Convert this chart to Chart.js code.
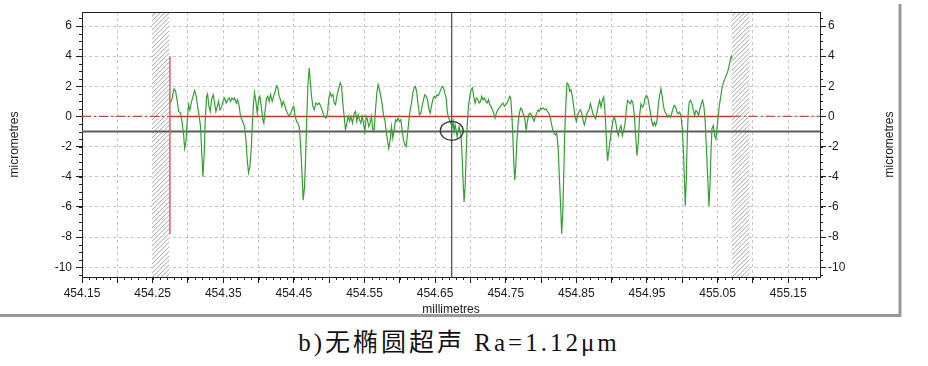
<!DOCTYPE html>
<html lang="zh">
<head>
<meta charset="UTF-8" />
<title>无椭圆超声 Ra=1.12μm</title>
<script src="https://cdn.jsdelivr.net/npm/chart.js"></script>
<style>
  body { margin: 0; background: #fff; }
  #wrap { position: relative; width: 928px; height: 366px; }
  #profileChart { position: absolute; left: 0; top: 0; }
  #caption {
    position: absolute; left: 0; top: 322px; width: 918px; line-height: 32px;
    text-align: center; color: #111; letter-spacing: 3px;
    font: 25px "Liberation Serif", "Noto Sans CJK SC", serif;
  }
</style>
</head>
<body>
<div id="wrap">
  <canvas id="profileChart" width="928" height="320"></canvas>
  <div id="caption">b)无椭圆超声 Ra=1.12μm</div>
</div>
<script>
// axis ranges and ticks
const xMin = 454.15, xMax = 455.195;
const yMin = -10.65, yMax = 6.93;
const xTickValues = [454.15, 454.20, 454.25, 454.30, 454.35, 454.40, 454.45, 454.50, 454.55, 454.60, 454.65,
  454.70, 454.75, 454.80, 454.85, 454.90, 454.95, 455.00, 455.05, 455.10, 455.15];
const xTickLabels = ["454.15", "", "454.25", "", "454.35", "", "454.45", "", "454.55", "", "454.65",
  "", "454.75", "", "454.85", "", "454.95", "", "455.05", "", "455.15"];
const yTickValues = [-10, -8, -6, -4, -2, 0, 2, 4, 6];

// surface profile (mm, um)
const profileX = [
  454.2750, 454.2774, 454.2802, 454.2825, 454.2849, 454.2868, 454.2896, 454.2915, 454.2939, 454.2953,
  454.2972, 454.2991, 454.3009, 454.3028, 454.3047, 454.3071, 454.3094, 454.3118, 454.3137, 454.3156,
  454.3179, 454.3198, 454.3212, 454.3231, 454.3245, 454.3264, 454.3278, 454.3297, 454.3316, 454.3335,
  454.3358, 454.3377, 454.3396, 454.3415, 454.3434, 454.3453, 454.3472, 454.3495, 454.3519, 454.3542,
  454.3561, 454.3585, 454.3604, 454.3623, 454.3646, 454.3660, 454.3684, 454.3703, 454.3726, 454.3745,
  454.3774, 454.3802, 454.3821, 454.3840, 454.3858, 454.3877, 454.3896, 454.3910, 454.3929, 454.3943,
  454.3962, 454.3981, 454.4000, 454.4019, 454.4038, 454.4061, 454.4075, 454.4094, 454.4113, 454.4132,
  454.4151, 454.4170, 454.4193, 454.4212, 454.4236, 454.4255, 454.4274, 454.4292, 454.4311, 454.4330,
  454.4349, 454.4368, 454.4387, 454.4410, 454.4434, 454.4458, 454.4481, 454.4500, 454.4519, 454.4538,
  454.4557, 454.4575, 454.4594, 454.4613, 454.4632, 454.4651, 454.4665, 454.4679, 454.4698, 454.4717,
  454.4731, 454.4750, 454.4769, 454.4788, 454.4811, 454.4835, 454.4858, 454.4882, 454.4906, 454.4929,
  454.4953, 454.4976, 454.4995, 454.5014, 454.5033, 454.5052, 454.5071, 454.5090, 454.5108, 454.5137,
  454.5156, 454.5175, 454.5193, 454.5212, 454.5231, 454.5250, 454.5269, 454.5288, 454.5307, 454.5330,
  454.5354, 454.5373, 454.5392, 454.5410, 454.5429, 454.5448, 454.5467, 454.5486, 454.5505, 454.5524,
  454.5542, 454.5561, 454.5580, 454.5599, 454.5618, 454.5637, 454.5656, 454.5675, 454.5693, 454.5712,
  454.5731, 454.5750, 454.5769, 454.5788, 454.5807, 454.5825, 454.5844, 454.5863, 454.5882, 454.5901,
  454.5920, 454.5939, 454.5958, 454.5976, 454.5995, 454.6014, 454.6033, 454.6052, 454.6071, 454.6090,
  454.6108, 454.6127, 454.6146, 454.6165, 454.6184, 454.6203, 454.6222, 454.6241, 454.6259, 454.6278,
  454.6297, 454.6316, 454.6335, 454.6354, 454.6373, 454.6392, 454.6410, 454.6429, 454.6448, 454.6467,
  454.6486, 454.6505, 454.6524, 454.6542, 454.6561, 454.6580, 454.6599, 454.6618, 454.6637, 454.6656,
  454.6675, 454.6693, 454.6741, 454.6755, 454.6769, 454.6783, 454.6797, 454.6811, 454.6825, 454.6840,
  454.6854, 454.6868, 454.6882, 454.6896, 454.6910, 454.6925, 454.6939, 454.6953, 454.6972, 454.6991,
  454.7009, 454.7028, 454.7047, 454.7066, 454.7085, 454.7104, 454.7123, 454.7142, 454.7160, 454.7179,
  454.7198, 454.7217, 454.7236, 454.7255, 454.7274, 454.7292, 454.7311, 454.7330, 454.7349, 454.7368,
  454.7387, 454.7406, 454.7425, 454.7443, 454.7462, 454.7481, 454.7500, 454.7519, 454.7538, 454.7557,
  454.7571, 454.7585, 454.7599, 454.7613, 454.7627, 454.7642, 454.7656, 454.7675, 454.7693, 454.7712,
  454.7731, 454.7750, 454.7769, 454.7788, 454.7807, 454.7825, 454.7844, 454.7863, 454.7882, 454.7901,
  454.7920, 454.7939, 454.7958, 454.7976, 454.7995, 454.8014, 454.8033, 454.8052, 454.8071, 454.8090,
  454.8108, 454.8127, 454.8146, 454.8165, 454.8184, 454.8203, 454.8222, 454.8241, 454.8259, 454.8278,
  454.8292, 454.8307, 454.8321, 454.8335, 454.8354, 454.8368, 454.8387, 454.8406, 454.8425, 454.8443,
  454.8462, 454.8481, 454.8500, 454.8519, 454.8538, 454.8557, 454.8575, 454.8594, 454.8613, 454.8632,
  454.8651, 454.8679, 454.8698, 454.8717, 454.8736, 454.8755, 454.8774, 454.8792, 454.8811, 454.8830,
  454.8849, 454.8868, 454.8887, 454.8906, 454.8920, 454.8934, 454.8943, 454.8962, 454.8981, 454.9000,
  454.9019, 454.9038, 454.9057, 454.9075, 454.9094, 454.9113, 454.9132, 454.9151, 454.9170, 454.9189,
  454.9208, 454.9226, 454.9245, 454.9264, 454.9283, 454.9302, 454.9321, 454.9340, 454.9358, 454.9377,
  454.9396, 454.9415, 454.9434, 454.9453, 454.9472, 454.9491, 454.9509, 454.9528, 454.9547, 454.9566,
  454.9585, 454.9604, 454.9623, 454.9642, 454.9660, 454.9679, 454.9698, 454.9717, 454.9736, 454.9755,
  454.9774, 454.9792, 454.9811, 454.9830, 454.9849, 454.9868, 454.9887, 454.9906, 454.9925, 454.9943,
  454.9962, 454.9981, 455.0000, 455.0019, 455.0033, 455.0042, 455.0057, 455.0071, 455.0085, 455.0099,
  455.0118, 455.0137, 455.0156, 455.0175, 455.0193, 455.0212, 455.0231, 455.0250, 455.0269, 455.0288,
  455.0307, 455.0325, 455.0344, 455.0363, 455.0377, 455.0392, 455.0406, 455.0420, 455.0439, 455.0458,
  455.0476, 455.0491, 455.0509, 455.0528, 455.0547, 455.0566, 455.0585, 455.0604, 455.0623, 455.0642,
  455.0660, 455.0679, 455.0693, 455.0705
];
const profileY = [
  0.89, 1.16, 1.82, 1.67, 1.00, 0.33, 0.22, -0.33, -1.22, -2.11,
  -1.67, -0.22, 0.78, 0.44, 0.89, 1.33, 1.71, 1.33, 0.67, 0.11,
  -0.67, -2.67, -4.00, -2.44, -0.22, 1.33, 1.49, 0.67, 0.33, 1.11,
  1.44, 0.89, 0.33, 0.67, 1.00, 0.44, 0.56, 1.00, 1.22, 0.89,
  1.11, 1.22, 1.00, 1.22, 1.11, 1.22, 0.89, 1.11, 0.67, 0.00,
  -0.33, -0.67, -1.56, -2.89, -3.73, -3.33, -2.22, -0.67, 0.89, 1.56,
  1.00, 0.22, 1.11, 1.33, 0.67, -0.22, -0.44, 0.44, 1.22, 1.33,
  1.00, 1.44, 1.00, 1.33, 1.67, 2.04, 1.89, 1.33, 1.11, 0.67,
  1.00, 0.78, 0.44, 0.22, 0.00, 0.22, 0.56, 0.67, 0.00, -0.33,
  -0.44, -0.67, -1.78, -3.56, -5.56, -4.67, -2.89, -0.67, 2.00, 3.22,
  2.44, 1.33, 0.67, 0.44, 0.89, 0.78, 0.89, 0.67, 0.33, 0.00,
  -0.11, 0.22, 1.22, 1.56, 1.33, 1.44, 0.89, 0.78, 1.33, 1.89,
  2.22, 2.00, 0.89, 0.00, -0.89, -0.44, 0.00, -0.33, 0.00, -0.44,
  0.22, 0.33, -0.33, 0.11, -0.22, -0.44, 0.00, -0.44, -1.00, 0.00,
  -0.22, -0.67, -0.44, 0.00, -0.89, -0.89, 0.44, 1.56, 2.11, 1.78,
  1.33, 0.78, 0.11, -0.22, -1.00, -1.56, -2.11, -1.56, -0.67, -1.44,
  -0.89, -0.22, -0.33, -0.11, -0.33, -0.22, -0.89, -1.56, -1.89, -2.00,
  -1.22, -0.33, 0.44, 0.89, 1.56, 1.89, 2.00, 1.56, 0.78, 0.11,
  0.22, 0.67, 1.11, 1.44, 1.33, 1.11, 0.56, 0.22, 0.67, 1.11,
  1.33, 1.22, 1.44, 1.38, 1.56, 1.78, 2.00, 1.89, 1.56, 1.22,
  0.22, -0.11, -0.67, -0.33, -1.00, -0.56, -0.89, -1.33, -1.00, -0.67,
  -1.00, -1.33, -2.67, -4.22, -5.67, -4.67, -2.67, -0.67, 0.67, 1.33,
  1.78, 1.89, 1.33, 0.89, 1.22, 1.11, 0.89, 1.00, 1.33, 1.11,
  1.22, 1.00, 0.89, 1.11, 0.78, 0.67, 0.44, 0.22, -0.11, 0.22,
  0.44, 0.56, 0.67, 0.78, 0.89, 0.67, 0.78, 0.89, 1.11, 1.33,
  1.22, 0.22, -1.11, -2.89, -4.22, -3.33, -1.78, -0.44, 0.22, 0.56,
  0.44, 0.11, -0.11, -0.89, -0.33, 0.11, 0.22, 0.11, -0.11, -0.33,
  0.00, 0.22, 0.44, 0.33, 0.56, 0.49, 0.56, 0.44, 0.49, 0.33,
  0.22, 0.00, -0.44, -0.89, -1.11, -1.22, -1.11, -2.00, -4.00, -6.00,
  -7.78, -6.44, -4.00, -1.11, 1.11, 2.22, 2.11, 1.67, 1.78, 1.33,
  0.67, 0.00, -0.33, 0.11, 0.33, 0.44, 0.22, -0.22, -0.56, -0.22,
  0.22, 0.44, 0.84, 0.51, 0.18, -0.04, -0.16, 0.29, 0.73, 1.07,
  0.62, 1.07, 1.29, 0.29, -1.04, -2.38, -2.93, -2.16, -1.49, -0.82,
  -0.27, -0.04, -0.38, -0.93, -1.27, -0.82, -0.60, -1.27, -0.93, -0.49,
  0.51, 1.07, 0.96, 0.84, 1.07, 0.84, 0.07, -1.27, -2.60, -1.71,
  0.07, 0.84, 0.62, 0.73, 1.18, 1.40, 1.29, 0.84, 0.29, -0.27,
  -0.60, -0.38, -0.60, -0.27, 0.73, 1.40, 1.84, 1.29, 0.62, 0.29,
  0.18, -0.04, 0.07, -0.04, 0.18, 0.51, 0.73, 0.62, 0.29, 0.18,
  0.29, 0.07, -0.82, -2.60, -4.60, -5.93, -4.16, -1.27, 0.29, 0.96,
  1.07, 0.84, 0.40, 0.07, 0.40, 0.29, 0.07, 0.51, 0.84, 1.07,
  0.62, -0.38, -2.38, -4.38, -5.93, -4.60, -2.38, -0.82, -0.60, -1.27,
  -1.49, -0.82, 0.07, 0.84, 1.40, 1.96, 2.29, 2.51, 2.73, 2.96,
  3.29, 3.73, 4.00, 3.85
];

// evaluation length, cursors and excluded bands
const evalStart = 454.2745, evalEnd = 455.070;
const startBarTop = 4, startBarBottom = -7.8;
const cursorX = 454.6736, cursorY = -1, cursorRingY = -0.95;
const hatchBands = [[454.249, 454.2735], [455.070, 455.095]];

const tickFont = { family: "Liberation Sans", size: 12 };
const ink = "#1a1a1a";

const hatch = {
  id: "hatch",
  beforeDatasetsDraw(chart) {
    const { ctx, chartArea: a, scales: { x } } = chart;
    const h = a.bottom - a.top;
    hatchBands.forEach(([from, to]) => {
      const l = x.getPixelForValue(from), r = x.getPixelForValue(to);
      ctx.save();
      ctx.beginPath();
      ctx.rect(l, a.top, r - l, h);
      ctx.clip();
      ctx.fillStyle = "#fff";
      ctx.fillRect(l, a.top, r - l, h);
      ctx.strokeStyle = "#a4a4a4";
      ctx.lineWidth = 1;
      ctx.beginPath();
      for (let d = -h; d < r - l + h; d += 4.5) {
        ctx.moveTo(l + d, a.bottom);
        ctx.lineTo(l + d + h, a.top);
      }
      ctx.stroke();
      ctx.restore();
    });
  }
};

const decorations = {
  id: "decorations",
  afterDraw(chart) {
    const { ctx, chartArea: a, scales: { x, y } } = chart;
    ctx.save();
    // top frame of the plot box
    ctx.strokeStyle = "#222";
    ctx.lineWidth = 1;
    ctx.beginPath();
    ctx.moveTo(a.left, a.top + 0.5);
    ctx.lineTo(a.right, a.top + 0.5);
    // minor ticks
    for (let k = 0; k <= 104; k++) {
      const px = Math.round(x.getPixelForValue(xMin + k * 0.01)) + 0.5;
      ctx.moveTo(px, a.bottom);
      ctx.lineTo(px, a.bottom + 3);
    }
    for (let k = -21; k <= 13; k++) {
      const py = Math.round(y.getPixelForValue(k * 0.5)) + 0.5;
      ctx.moveTo(a.left - 3, py);
      ctx.lineTo(a.left, py);
      ctx.moveTo(a.right, py);
      ctx.lineTo(a.right + 3, py);
    }
    ctx.stroke();

    // cursor ring
    ctx.strokeStyle = "#333";
    ctx.lineWidth = 1.2;
    ctx.beginPath();
    ctx.ellipse(x.getPixelForValue(cursorX), y.getPixelForValue(cursorRingY), 11.5, 9.5, 0, 0, Math.PI * 2);
    ctx.stroke();

    // right axis title
    ctx.fillStyle = ink;
    ctx.font = "12px 'Liberation Sans'";
    ctx.textAlign = "center";
    ctx.textBaseline = "middle";
    ctx.translate(890, (a.top + a.bottom) / 2);
    ctx.rotate(-Math.PI / 2);
    ctx.fillText("micrometres", 0, 0);
    ctx.restore();

    // window frame
    ctx.save();
    ctx.strokeStyle = "#999";
    ctx.lineWidth = 3;
    ctx.beginPath();
    ctx.moveTo(0, 315.5);
    ctx.lineTo(901, 315.5);
    ctx.moveTo(900, 4);
    ctx.lineTo(900, 317);
    ctx.stroke();
    ctx.restore();
  }
};

const seg = (x1, y1, x2, y2) => [{ x: x1, y: y1 }, { x: x2, y: y2 }];

new Chart(document.getElementById("profileChart"), {
  type: "line",
  data: {
    datasets: [
      {
        data: profileX.map((v, i) => ({ x: v, y: profileY[i] })),
        borderColor: "rgb(52,160,52)", borderWidth: 1.2, pointRadius: 0, order: 0
      },
      {
        data: seg(evalStart, startBarTop, evalStart, startBarBottom),
        borderColor: "rgb(232,90,90)", borderWidth: 1.5, pointRadius: 0, order: 2
      },
      {
        data: seg(evalStart, 0, evalEnd, 0),
        borderColor: "rgb(226,40,40)", borderWidth: 1.5, pointRadius: 0, order: 2
      },
      {
        data: seg(xMin, 0, evalStart, 0),
        borderColor: "rgb(226,60,60)", borderWidth: 1.3, borderDash: [9, 3, 2, 3], pointRadius: 0, order: 2
      },
      {
        data: seg(evalEnd, 0, xMax, 0),
        borderColor: "rgb(226,60,60)", borderWidth: 1.3, borderDash: [9, 3, 2, 3], pointRadius: 0, order: 2
      },
      {
        data: seg(xMin, cursorY, xMax, cursorY),
        borderColor: "#5c5c5c", borderWidth: 2, pointRadius: 0, order: 3
      },
      {
        data: seg(cursorX, yMin, cursorX, yMax),
        borderColor: "#222", borderWidth: 1, pointRadius: 0, order: 3
      }
    ]
  },
  options: {
    responsive: false,
    animation: false,
    layout: { padding: { top: 12, left: 0, right: 0, bottom: 0 } },
    plugins: { legend: { display: false }, tooltip: { enabled: false } },
    scales: {
      x: {
        type: "linear", min: xMin, max: xMax,
        afterFit: (s) => { s.height = 43; },
        afterBuildTicks: (s) => { s.ticks = xTickValues.map((v) => ({ value: v })); },
        ticks: {
          autoSkip: false, maxRotation: 0, padding: 3, color: ink, font: tickFont,
          callback: (v, i) => xTickLabels[i]
        },
        grid: { color: "#c6c6c6", lineWidth: 1, tickLength: 6, tickColor: "#222" },
        border: { color: "#222", width: 1, dash: [3, 3] },
        title: { display: true, text: "millimetres", color: ink, font: tickFont, padding: { top: 0, bottom: 3 } }
      },
      y: {
        position: "left", min: yMin, max: yMax,
        afterFit: (s) => { s.width = 82; },
        afterBuildTicks: (s) => { s.ticks = yTickValues.map((v) => ({ value: v })); },
        ticks: { padding: 4, color: ink, font: tickFont, callback: (v) => String(v) },
        grid: { color: "#c6c6c6", lineWidth: 1, tickLength: 6, tickColor: "#222" },
        border: { color: "#222", width: 1, dash: [3, 3] },
        title: { display: true, text: "micrometres", color: ink, font: tickFont, padding: { top: 7, bottom: 0 } }
      },
      y2: {
        position: "right", min: yMin, max: yMax,
        afterFit: (s) => { s.width = 108; },
        afterBuildTicks: (s) => { s.ticks = yTickValues.map((v) => ({ value: v })); },
        ticks: { padding: 2, color: ink, font: tickFont, callback: (v) => String(v) },
        grid: { drawOnChartArea: false, tickLength: 6, tickColor: "#222" },
        border: { color: "#222", width: 1 }
      }
    }
  },
  plugins: [hatch, decorations]
});
</script>
</body>
</html>
